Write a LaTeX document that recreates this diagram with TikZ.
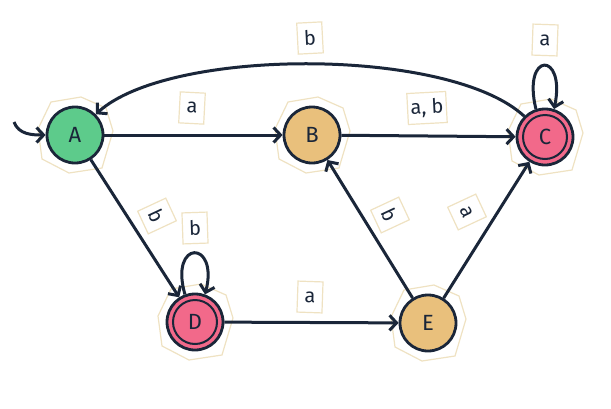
\documentclass[tikz,border=0pt]{standalone}
\usepackage{fontspec}
\setmainfont{Fira Sans}
\usetikzlibrary{arrows.meta}
\definecolor{ink}{HTML}{1A2639}
\definecolor{cream}{HTML}{EFE2C2}
\definecolor{greenc}{HTML}{5DCB8B}
\definecolor{tanc}{HTML}{E9C07C}
\definecolor{pinkc}{HTML}{F2698A}
\tikzset{
  statenode/.style={circle, draw=ink, line width=2.8pt, minimum size=56pt, inner sep=0pt, text=ink, font=\fontsize{22}{22}\selectfont},
  edgeline/.style={draw=ink, line width=3pt, -{Straight Barb[length=7pt,width=15pt]}},
  lbl/.style={fill=white, draw=cream, line width=1.2pt, inner sep=3pt, minimum width=25pt, minimum height=31pt, text=ink, font=\fontsize{20}{20}\selectfont},
  backdrop/.style={fill=white, draw=cream, line width=1.2pt},
}
\newcommand{\paperback}[1]{%
  \draw[backdrop, shift={#1}] (38,-4) -- (31,-27) -- (6,-38) -- (-24,-33) -- (-37,-6) -- (-33,24) -- (-6,38) -- (27,33) -- cycle;}
\begin{document}
\begin{tikzpicture}[x=1pt,y=-1pt]
\useasboundingbox (0,0) rectangle (611,408);
% backdrops
\paperback{(75,135)}
\paperback{(312,135)}
\paperback{(545,137)}
\paperback{(195,322)}
\paperback{(428,323)}
% nodes
\node[statenode, fill=greenc] (A) at (75,135) {A};
\node[statenode, fill=tanc] (B) at (312,135) {B};
\node[statenode, fill=pinkc] (C) at (545,137) {C};
\node[statenode, fill=pinkc] (D) at (195,322) {D};
\node[statenode, fill=tanc] (E) at (428,323) {E};
\draw[ink, line width=2pt] (C) circle (22pt);
\draw[ink, line width=2pt] (D) circle (22pt);
% edges
\coordinate (init) at (14,122);
\draw[edgeline] (init) to[out=-70, in=180] (A.west);
\draw[edgeline] (A) -- (B);
\draw[edgeline] (B) -- (C);
\draw[edgeline] (A) -- (D);
\draw[edgeline] (D) -- (E);
\draw[edgeline] (E) -- (B);
\draw[edgeline] (E) -- (C);
\draw[edgeline] (C.135) .. controls (450,47) and (170,47) .. (A.45);
\draw[edgeline] (C.108) .. controls +(-14,-58) and +(12,-58) .. (C.72);
\draw[edgeline] (D.110) .. controls +(-16,-55) and +(14,-55) .. (D.70);
% labels
\node[lbl, rotate=3] (lCA) at (310,38) {b};
\node[lbl, rotate=-3] (lAB) at (192,108) {a};
\node[lbl, rotate=3] (lBC) at (427,108) {a, b};
\node[lbl, rotate=-2] (lCC) at (545,40) {a};
\node[lbl, rotate=-65] (lAD) at (157,216) {b};
\node[lbl, rotate=2] (lDD) at (195,228) {b};
\node[lbl, rotate=-2] (lDE) at (310,297) {a};
\node[lbl, rotate=-65] (lEB) at (390,215) {b};
\node[lbl, rotate=-65] (lEC) at (467,212) {a};
\end{tikzpicture}
\end{document}
